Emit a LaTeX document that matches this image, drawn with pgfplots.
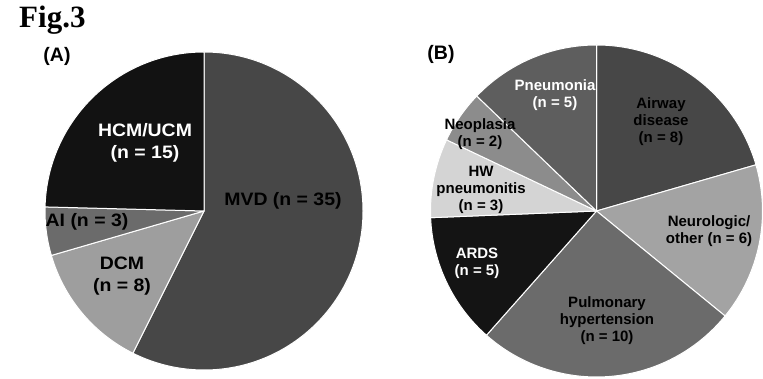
\documentclass[border=0pt]{standalone}
\usepackage{pgfplots}
\usepackage{pgfplotstable}
\pgfplotsset{compat=1.18}
\usepackage{fontspec}
\setmainfont{Liberation Sans}
\newfontfamily\figfont{Liberation Serif}

% value = count, shade = percent black of the wedge fill
\pgfplotstableread{
name value shade
MVD 35 72
DCM 8 38
AI 3 58
HCM 15 93
}\dataA
\pgfplotstableread{
name value shade
Airway 8 72
Neuro 6 36
Pulm 10 58
ARDS 5 92
HW 3 17
Neo 2 45
Pneu 5 63
}\dataB

\newcommand\piecompute[2]{%
  \gdef\pietotal{0}%
  \pgfplotstableforeachcolumnelement{value}\of#1\as\pieval{%
    \pgfmathsetmacro\pietmp{\pietotal+\pieval}\xdef\pietotal{\pietmp}}%
  \gdef\piecum{0}%
  \pgfplotstableforeachcolumnelement{value}\of#1\as\pieval{%
    \pgfmathsetmacro\piesa{90-\piecum/\pietotal*360}%
    \pgfmathsetmacro\pietmp{\piecum+\pieval}\xdef\piecum{\pietmp}%
    \pgfmathsetmacro\pieea{90-\piecum/\pietotal*360}%
    \expandafter\xdef\csname #2s\pgfplotstablerow\endcsname{\piesa}%
    \expandafter\xdef\csname #2e\pgfplotstablerow\endcsname{\pieea}%
  }%
  \pgfplotstableforeachcolumnelement{shade}\of#1\as\pieval{%
    \expandafter\xdef\csname #2c\pgfplotstablerow\endcsname{\pieval}}%
}

\newcommand\drawpie[5]{% prefix, last index, cx, cy, r
  \pgfplotsinvokeforeach{0,...,#2}{%
    \fill[black!\csname #1c##1\endcsname, draw=white, line width=1pt, line join=round]
      (axis cs:#3,#4) -- ++(\csname #1s##1\endcsname:#5pt)
      arc[start angle=\csname #1s##1\endcsname, end angle=\csname #1e##1\endcsname, radius=#5pt] -- cycle;
  }}

\newcommand\labA[4]{\node[text=#3, inner sep=0pt, font=\fontsize{18}{22}\selectfont\bfseries]
  at (axis cs:#1,#2) {\scalebox{1.08}[1]{\begin{tabular}{@{}c@{}}#4\end{tabular}}};}
\newcommand\labB[4]{\node[text=#3, inner sep=0pt, font=\fontsize{15}{17}\selectfont\bfseries]
  at (axis cs:#1,#2) {\begin{tabular}{@{}c@{}}#4\end{tabular}};}

\begin{document}
\begin{tikzpicture}
\useasboundingbox (0,0) rectangle (763pt,379pt);
\piecompute{\dataA}{A}
\piecompute{\dataB}{B}
\begin{axis}[
  at={(0,0)}, anchor=south west,
  width=763pt, height=379pt, scale only axis,
  xmin=0, xmax=763, ymin=0, ymax=379,
  hide axis,
]
\drawpie{A}{3}{204}{168}{159}
\drawpie{B}{6}{596.5}{168}{166}

\node[anchor=base west, inner sep=0pt, font=\figfont\fontsize{31}{34}\selectfont\bfseries] at (axis cs:19,351) {Fig.3};
\node[inner sep=0pt, font=\fontsize{19.5}{22}\selectfont\bfseries] at (axis cs:57,323) {(A)};
\node[inner sep=0pt, font=\fontsize{19.5}{22}\selectfont\bfseries] at (axis cs:441,325) {(B)};

\labA{145}{236}{white}{HCM/UCM\\(n = 15)}
\labA{283}{178}{black}{MVD (n = 35)}
\labA{87}{157}{black}{AI (n = 3)}
\labA{122}{103}{black}{DCM\\(n = 8)}

\labB{555}{283}{white}{Pneumonia\\(n = 5)}
\labB{661}{257}{black}{Airway\\disease\\(n = 8)}
\labB{709}{147}{black}{Neurologic/\\other (n = 6)}
\labB{607}{58}{black}{Pulmonary\\hypertension\\(n = 10)}
\labB{477}{115}{white}{ARDS\\(n = 5)}
\labB{481}{189}{black}{HW\\pneumonitis\\(n = 3)}
\labB{480}{244}{black}{Neoplasia\\(n = 2)}
\end{axis}
\end{tikzpicture}
\end{document}
